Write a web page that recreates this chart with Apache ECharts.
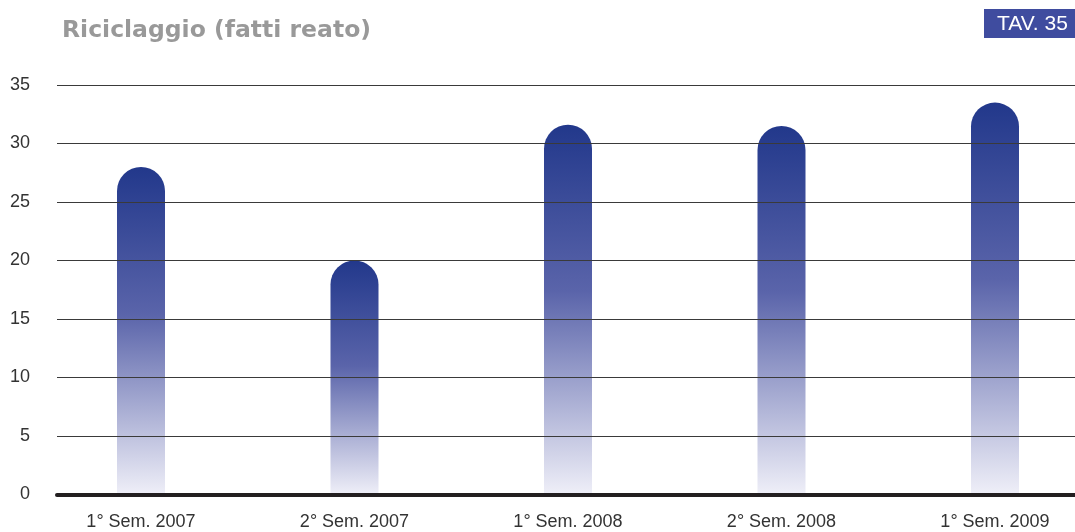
<!DOCTYPE html>
<html>
<head>
<meta charset="utf-8">
<script src="https://cdn.jsdelivr.net/npm/echarts@6/dist/echarts.min.js"></script>
<style>
html,body{margin:0;padding:0;background:#fff;}
#chart{width:1075px;height:532px;}
</style>
</head>
<body>
<div id="chart"></div>
<script>
var titleText = 'Riciclaggio (fatti reato)';
var tableLabel = 'TAV. 35';
var categories = ['1° Sem. 2007', '2° Sem. 2007', '1° Sem. 2008', '2° Sem. 2008', '1° Sem. 2009'];
var values = [28, 20, 31.6, 31.5, 33.5];
var yMin = 0, yMax = 35, yStep = 5;

var chart = echarts.init(document.getElementById('chart'), null, {renderer: 'canvas'});
var font = '"Liberation Sans", Arial, Helvetica, sans-serif';
var option = {
  animation: false,
  backgroundColor: '#ffffff',
  graphic: [
    {type: 'text', left: 62, top: 19, style: {text: titleText, fill: '#999999', font: 'bold 23.5px "DejaVu Sans", sans-serif'}},
    {type: 'rect', shape: {x: 984, y: 9, width: 91, height: 29}, style: {fill: '#3f4c9f'}},
    {type: 'text', left: 997, top: 14, style: {text: tableLabel, fill: '#ffffff', font: '21px ' + font}}
  ],
  grid: [
    {left: 57, right: 0, top: 85, bottom: 37.5},
    {left: 141, width: 854, top: 85, bottom: 37.5}
  ],
  xAxis: [
    {type: 'category', gridIndex: 0, data: categories, z: 10,
     axisLabel: {show: false}, axisTick: {show: false},
     axisLine: {lineStyle: {color: '#231f20', width: 4}}},
    {type: 'category', gridIndex: 1, data: categories, boundaryGap: false,
     axisLine: {show: false}, axisTick: {show: false},
     axisLabel: {fontSize: 18, color: '#333333', margin: 19, fontFamily: font}}
  ],
  yAxis: [
    {type: 'value', gridIndex: 0, min: yMin, max: yMax, interval: yStep, z: 9,
     axisLine: {show: false}, axisTick: {show: false},
     axisLabel: {fontSize: 18, color: '#333333', margin: 27, fontFamily: font},
     splitLine: {lineStyle: {color: '#3a3a3a', width: 1}}},
    {type: 'value', gridIndex: 1, min: yMin, max: yMax, interval: yStep, show: false,
     splitLine: {show: false}}
  ],
  series: [{
    type: 'bar', xAxisIndex: 1, yAxisIndex: 1, data: values, barWidth: 48,
    itemStyle: {
      borderRadius: [24, 24, 0, 0],
      color: new echarts.graphic.LinearGradient(0, 0, 0, 1, [
        {offset: 0, color: '#22388b'},
        {offset: 0.45, color: '#5a64aa'},
        {offset: 1, color: '#efeff8'}
      ])
    }
  }]
};
chart.setOption(option);
</script>
</body>
</html>
